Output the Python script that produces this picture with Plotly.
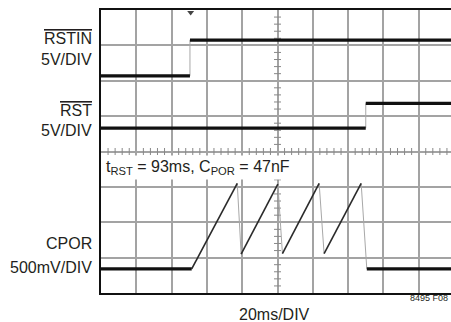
import plotly.graph_objects as go
import numpy as np

# Time axis in divisions (20ms/DIV), levels in screen divisions (0 = bottom graticule line)
rstin_t = [0, 2.52, 2.52, 9.92]
rstin_v = [6.14, 6.14, 7.15, 7.15]
rst_t = [0, 7.50, 7.50, 9.92]
rst_v = [4.66, 4.66, 5.36, 5.36]
cpor_t = [0, 2.57, 3.86, 3.97, 5.01, 5.14, 6.18, 6.32, 7.37, 7.53, 9.92]
cpor_v = [0.68, 0.68, 3.10, 1.10, 3.08, 1.11, 3.10, 1.11, 3.10, 0.68, 0.68]
trigger_t = [2.54]

labels = ['<span style="text-decoration:overline">RSTIN</span>', '5V/DIV',
          '<span style="text-decoration:overline">RST</span>', '5V/DIV',
          'CPOR', '500mV/DIV']
label_y = [7.20, 6.61, 5.17, 4.59, 1.40, 0.73]
note_text = 't<sub>RST</sub> = 93ms, C<sub>POR</sub> = 47nF'
xlabel = '20ms/DIV'
figid = '8495 F08'

FONT = 'Liberation Sans, Arial, sans-serif'
INK = '#231f20'
XR = 9.915   # visible divisions horizontally
YR = 8.0     # divisions vertically


def split(ts, vs):
    groups = {'flat': ([], []), 'rise': ([], []), 'fall': ([], [])}
    for i in range(len(ts) - 1):
        dv = vs[i + 1] - vs[i]
        dt = ts[i + 1] - ts[i]
        k = 'flat' if dv == 0 else ('rise' if (dt > 0 and dv > 0) else 'fall')
        groups[k][0].extend([ts[i], ts[i + 1], None])
        groups[k][1].extend([vs[i], vs[i + 1], None])
    return groups


styles = {'fall': dict(color='#a8a8a8', width=1),
          'rise': dict(color='#2a2a2a', width=1.6),
          'flat': dict(color='#111111', width=3.2)}

fig = go.Figure()

# graticule minor ticks on centre lines
minor = [v for v in np.arange(0, 10.01, 0.2) if abs(v - round(v)) > 1e-6]
minor_y = [v for v in np.arange(0, 8.01, 0.2) if abs(v - round(v)) > 1e-6]
fig.add_trace(go.Scatter(x=minor, y=[4] * len(minor), mode='markers',
                         marker=dict(symbol='line-ns', size=5, line=dict(width=1, color='#888')),
                         hoverinfo='skip'))
fig.add_trace(go.Scatter(x=[5] * len(minor_y), y=minor_y, mode='markers',
                         marker=dict(symbol='line-ew', size=5, line=dict(width=1, color='#888')),
                         hoverinfo='skip'))

for ts, vs in [(rstin_t, rstin_v), (rst_t, rst_v), (cpor_t, cpor_v)]:
    g = split(ts, vs)
    for k in ['fall', 'rise', 'flat']:
        if g[k][0]:
            fig.add_trace(go.Scatter(x=g[k][0], y=g[k][1], mode='lines',
                                     line=dict(**styles[k]), hoverinfo='skip'))

# trigger marker
fig.add_trace(go.Scatter(x=trigger_t, y=[7.93], mode='markers', cliponaxis=False,
                         marker=dict(symbol='triangle-down', size=6, color='#444'),
                         hoverinfo='skip'))

annotations = []
for txt, yy in zip(labels, label_y):
    annotations.append(dict(x=-0.21 / XR, y=yy / YR, xref='paper', yref='paper', text=txt,
                            showarrow=False, xanchor='right', yanchor='middle',
                            font=dict(family=FONT, size=16, color=INK)))
annotations.append(dict(x=0.06 / XR, y=3.56 / YR, xref='paper', yref='paper', text=note_text,
                        showarrow=False, xanchor='left', yanchor='middle', bgcolor='white',
                        borderpad=2, font=dict(family=FONT, size=16, color=INK)))
annotations.append(dict(x=4.915 / XR, y=-0.60 / YR, xref='paper', yref='paper', text=xlabel,
                        showarrow=False, xanchor='center', yanchor='middle',
                        font=dict(family=FONT, size=16, color=INK)))
annotations.append(dict(x=9.90 / XR, y=-0.15 / YR, xref='paper', yref='paper', text=figid,
                        showarrow=False, xanchor='right', yanchor='middle',
                        font=dict(family=FONT, size=9, color=INK)))

fig.update_layout(width=451, height=322, margin=dict(l=101, r=0, t=10, b=28.8),
                  plot_bgcolor='white', paper_bgcolor='white', showlegend=False,
                  annotations=annotations)
fig.update_xaxes(range=[0, XR], tick0=0, dtick=1, showgrid=True, gridcolor='#a3a3a3',
                 gridwidth=1.5, showticklabels=False, ticks='', zeroline=False,
                 showline=True, linecolor='#111', linewidth=2, mirror=True)
fig.update_yaxes(range=[0, YR], tick0=0, dtick=1, showgrid=True, gridcolor='#a3a3a3',
                 gridwidth=1.5, showticklabels=False, ticks='', zeroline=False,
                 showline=True, linecolor='#111', linewidth=2, mirror=False)

fig.write_html('out.html', config={'displayModeBar': False},
               post_script="document.body.style.margin='0';document.body.style.overflow='hidden';")
